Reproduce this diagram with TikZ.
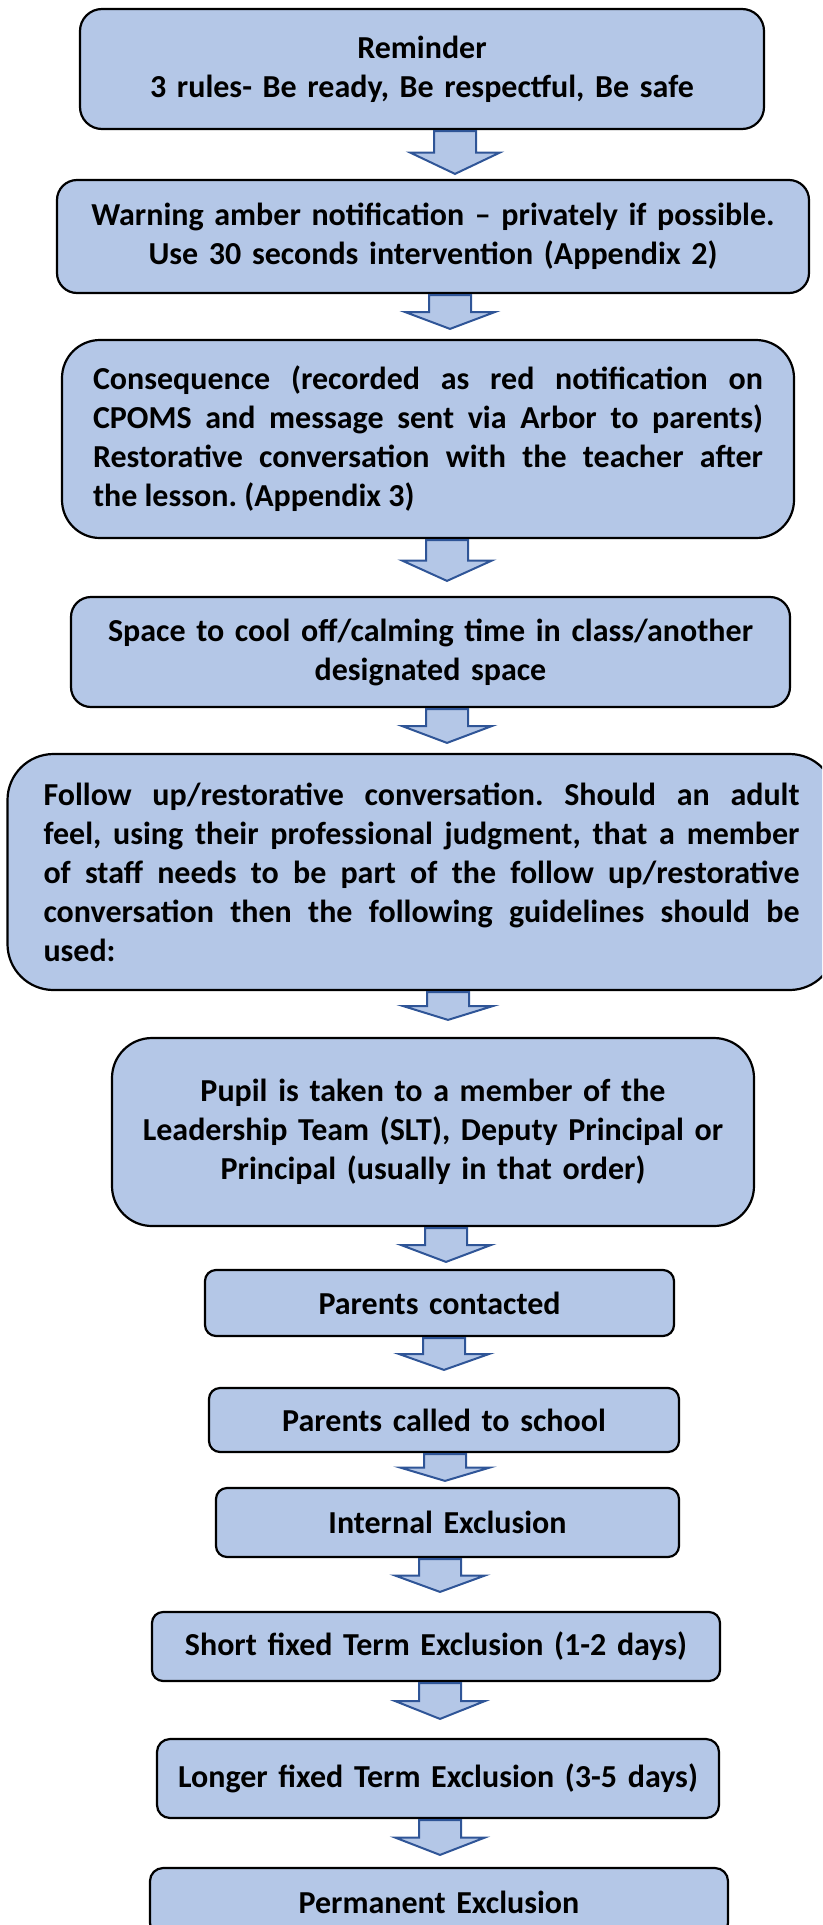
\documentclass[tikz,border=0pt]{standalone}
\usepackage{fontspec}
\setmainfont{Carlito}
\usetikzlibrary{calc}
\definecolor{boxBlue}{HTML}{B4C7E7}
\definecolor{arrowEdge}{HTML}{2F5597}

\begin{document}
\begin{tikzpicture}
[stepBox/.style={draw=black,line width=2.2pt,fill=boxBlue,inner sep=0pt,align=center,
   font=\fontsize{32}{39}\selectfont\bfseries\frenchspacing},
 blockArrow/.style={draw=arrowEdge,line width=2pt,fill=boxBlue,line join=miter},
 x=1pt,y=-1pt]
\clip (0,0) rectangle (822,1925);
%% boxes of the steps
\node (remind) at (422,69) [stepBox,minimum width=684pt,minimum height=120pt,
  rounded corners=22pt,text width=660pt]
  {Reminder\\3 rules- Be ready, Be respectful, Be safe};
\node (warn) at (433,236.5) [stepBox,minimum width=752pt,minimum height=113pt,
  rounded corners=20pt,text width=730pt]
  {Warning amber notification -- privately if possible.\\Use 30 seconds intervention (Appendix 2)};
\node (conseq) at (428,439) [stepBox,minimum width=732pt,minimum height=198pt,
  rounded corners=38pt,text width=670pt,align=justify]
  {Consequence (recorded as red notification on\linebreak
   CPOMS and message sent via Arbor to parents)\linebreak
   Restorative conversation with the teacher after\linebreak
   the lesson. (Appendix 3)};
\node (space) at (430.5,652) [stepBox,minimum width=719pt,minimum height=110pt,
  rounded corners=20pt,text width=690pt]
  {Space to cool off/calming time in class/another\\designated space};
\node (follow) at (424,872) [stepBox,minimum width=828pt,minimum height=236pt,
  rounded corners=46pt,text width=756pt,align=justify,xshift=-2.5pt]
  {Follow up/restorative conversation. Should an adult\linebreak
   feel, using their professional judgment, that a member\linebreak
   of staff needs to be part of the follow up/restorative\linebreak
   conversation then the following guidelines should be\linebreak
   used:};
\node (pupil) at (433,1132) [stepBox,minimum width=642pt,minimum height=188pt,
  rounded corners=40pt,text width=620pt]
  {Pupil is taken to a member of the\\Leadership Team (SLT), Deputy Principal or\\Principal (usually in that order)};
\node (contact) at (439.5,1303) [stepBox,minimum width=469pt,minimum height=66pt,
  rounded corners=11pt,text width=450pt] {Parents contacted};
\node (called) at (444,1420) [stepBox,minimum width=470pt,minimum height=64pt,
  rounded corners=11pt,text width=450pt] {Parents called to school};
\node (internal) at (447.5,1522.5) [stepBox,minimum width=463pt,minimum height=69pt,
  rounded corners=11pt,text width=440pt] {Internal Exclusion};
\node (shortEx) at (436,1646.5) [stepBox,minimum width=568pt,minimum height=69pt,
  rounded corners=11pt,text width=550pt] {Short fixed Term Exclusion (1-2 days)};
\node (longEx) at (438,1778.5) [stepBox,minimum width=562pt,minimum height=79pt,
  rounded corners=13pt,text width=550pt] {Longer fixed Term Exclusion (3-5 days)};
\node (perm) at (439,1902) [stepBox,minimum width=578pt,minimum height=68pt,
  rounded corners=13pt,text width=550pt] {Permanent Exclusion};
%% block arrows between the steps
\foreach \startnode/\endnode/\ax/\gap in {remind/warn/455/5, warn/conseq/450/10,
  conseq/space/447/15, space/follow/447/10, follow/pupil/448/17,
  pupil/contact/446/7, contact/called/444/17, called/internal/445/6,
  internal/shortEx/440/19, shortEx/longEx/440/19, longEx/perm/440/12}
{
  \coordinate (top) at ($(\startnode.south -| \ax,0)+(0,1)$);
  \coordinate (tip) at ($(\endnode.north -| \ax,0)+(0,-\gap)$);
  \coordinate (mid) at ($(top)!0.5!(tip)$);
  \draw[blockArrow] ($(top)+(-21,0)$) -- ($(mid)+(-21,0)$) -- ($(mid)+(-45,0)$)
    -- (tip) -- ($(mid)+(45,0)$) -- ($(mid)+(21,0)$) -- ($(top)+(21,0)$) -- cycle;
}
\end{tikzpicture}
\end{document}
